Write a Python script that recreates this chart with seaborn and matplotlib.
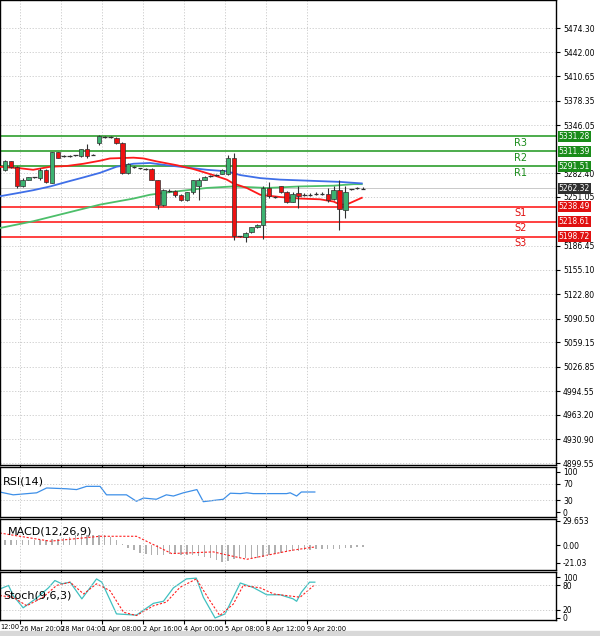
import matplotlib
matplotlib.use("Agg")
import matplotlib.pyplot as plt
import seaborn as sns
import numpy as np
import pandas as pd

# ---- data ----
opens  = [5287,5298,5291,5265,5274,5277,5276,5287,5269,5310,5305,5305,5306,5305,5314,5307,5322,5330,5330,5329,5323,5283,5291,5289,5288,5288,5274,5241,5259,5259,5254,5247,5257,5266,5274,5279,5280,5282,5282,5302,5199,5198,5205,5211,5214,5263,5251,5265,5258,5244,5256,5254,5254,5255,5255,5255,5248,5260,5234,5261,5263,5263]
closes = [5298,5291,5265,5274,5277,5277,5287,5271,5310,5303,5305,5305,5306,5314,5305,5307,5332,5330,5330,5323,5283,5295,5291,5289,5288,5274,5241,5260,5259,5254,5247,5257,5274,5274,5278,5279,5280,5287,5302,5199,5199,5204,5211,5214,5263,5252,5251,5258,5244,5255,5252,5254,5254,5255,5255,5247,5260,5235,5258,5261,5263,5262]
highs  = [5300,5299,5292,5276,5278,5278,5289,5288,5311,5311,5306,5306,5307,5315,5321,5308,5333,5331,5331,5330,5324,5296,5292,5290,5289,5289,5274,5261,5261,5260,5255,5258,5274,5276,5279,5280,5281,5288,5307,5309,5200,5205,5212,5215,5265,5271,5252,5266,5259,5257,5265,5256,5256,5257,5257,5263,5265,5273,5265,5262,5264,5264]
lows   = [5285,5289,5263,5264,5273,5276,5274,5270,5269,5302,5304,5304,5305,5304,5303,5306,5320,5329,5329,5321,5281,5281,5290,5288,5287,5273,5235,5239,5258,5251,5246,5246,5255,5247,5273,5278,5279,5281,5280,5194,5198,5192,5203,5210,5195,5250,5250,5256,5243,5244,5236,5253,5253,5254,5254,5245,5247,5208,5223,5260,5262,5261]

ma_red_x = [-0.9,2.6,4.8,7.7,10.5,13.4,16.2,17.9,21.9,23.6,25.9,29.3,32.1,35.5,37.8,38.9,41.2,43.5,46.9,50.3,53.7,56.0,57.1,58.2,60.8]
ma_red_y = [5291,5289,5287,5291,5292,5295,5299,5302,5303,5302,5298,5293,5288,5280,5274,5269,5263,5254,5251,5249,5248,5245,5241,5241,5250]
ma_blue_x = [-0.9,2.0,4.8,7.7,10.5,13.4,16.2,19.0,21.9,24.7,27.6,31.0,34.4,37.8,40.1,43.5,46.9,50.3,53.7,57.1,60.8]
ma_blue_y = [5252,5256,5260,5265,5271,5277,5283,5291,5295,5296,5293,5290,5287,5285,5280,5276,5274,5273,5272,5271,5269]
ma_green_x = [-0.9,4.8,10.5,16.2,21.9,24.7,27.6,31.0,34.4,38.9,44.6,50.3,56.0,59.4,60.8]
ma_green_y = [5210,5219,5230,5241,5249,5254,5257,5260,5263,5265,5263,5265,5266,5268,5268]

levels = [5331.28, 5311.39, 5291.51, 5238.49, 5218.61, 5198.72]
level_names = ["R3", "R2", "R1", "S1", "S2", "S3"]
last_price = 5262.32
price_ticks = [5474.30,5442.00,5410.65,5378.35,5346.05,5282.40,5251.05,5186.45,5155.10,5122.80,5090.50,5059.15,5026.85,4994.55,4963.20,4930.90,4899.55]

rsi_x = [-0.9,1.4,5.4,7.1,10.5,12.2,13.9,16.2,17.3,20.7,22.4,23.6,25.8,27.5,28.7,30.4,32.7,33.8,37.2,38.4,40.1,41.2,42.3,48.0,48.6,49.7,50.5,52.8]
rsi_y = [50,43,48,60,58,56,64,64,43,43,27,35,32,43,40,48,56,26,32,47,46,48,46,46,48,40,50,50]

macd_hist = [7,7,6,6,7,7,7,7,8,8,9,10,12,13,13,12,13,12,10,6,2,-3,-6,-9,-11,-12,-12,-12,-11,-11,-12,-12,-12,-13,-14,-15,-18,-20,-19,-17,-16,-15,-15,-15,-14,-12,-10,-9,-8,-7,-7,-6,-6,-5,-5,-5,-4,-4,-3,-3,-2,-2]
sig_x = [-0.9,7.7,16.2,22.4,28.4,35.5,41.2,48.9,52.8]
sig_y = [15,5,11,11,-10,-8,-17,-6,-2]

st_x = [-0.9,0.6,1.4,3.1,5.4,7.4,8.5,9.7,11.1,13.1,15.6,16.5,19.0,22.4,25.3,27.0,28.7,30.9,32.6,33.8,35.8,37.5,40.1,42.3,44.6,46.9,49.1,49.7,50.5,51.9,52.8]
st_y = [71,80,55,25,49,74,92,84,88,47,96,88,10,7,36,41,74,96,98,51,0,10,86,75,57,57,47,41,63,88,88]
sts_x = [-0.9,1.4,3.7,6.5,8.8,11.1,13.4,15.6,17.9,20.2,22.4,25.3,27.5,29.8,32.6,34.9,36.6,38.9,40.6,43.5,45.8,48.0,50.3,52.8]
sts_y = [55,51,30,51,80,88,59,84,67,14,6,30,39,75,96,43,6,34,80,74,59,55,51,82]

x_ticks = [2.5 + 7*k for k in range(8)]
x_labels = ["26 Mar 20:00","28 Mar 04:00","1 Apr 08:00","2 Apr 16:00","4 Apr 00:00","5 Apr 08:00","8 Apr 12:00","9 Apr 20:00"]

# ---- figure ----
W, H = 600, 636
fig = plt.figure(figsize=(6, 6.36), dpi=100)
fig.patch.set_facecolor("white")
XL = (-0.85, 93.9)
FS = 5.5

def ax_at(top, bottom):
    return fig.add_axes([0, (H-bottom)/H, 556/W, (bottom-top)/H])

def style(ax, ticks):
    ax.set_xlim(*XL)
    ax.yaxis.tick_right()
    ax.set_yticks(ticks)
    ax.tick_params(axis="y", labelsize=FS, length=3, pad=2, colors="black")
    ax.set_xticks(x_ticks)
    ax.tick_params(axis="x", length=3, labelbottom=False)
    ax.grid(True, color="#c8c8c8", linestyle=(0, (1.5, 2)), linewidth=0.6)
    for s in ax.spines.values():
        s.set_color("black"); s.set_linewidth(1.0)
    ax.set_ylabel(""); ax.set_xlabel("")

# main
ax = ax_at(0, 465)
idx = np.arange(len(opens))
for lv, nm in zip(levels, level_names):
    c = "#2e9e2e" if nm.startswith("R") else "#ff2020"
    ax.axhline(lv, color=c, lw=1.2, zorder=2)
    ax.text(1.005, lv, f"{lv:.2f}", transform=ax.get_yaxis_transform(), fontsize=FS,
            color="white", va="center", ha="left",
            bbox=dict(boxstyle="square,pad=0.15", fc="#1a8c1a" if nm[0]=="R" else "#e01010", ec="none"), clip_on=False)
    ax.text(87.8, lv - 9, nm, fontsize=7, color="#1a8c1a" if nm[0]=="R" else "#e01010",
            ha="center", va="center")
ax.text(1.005, last_price, f"{last_price:.2f}", transform=ax.get_yaxis_transform(), fontsize=FS,
        color="white", va="center", ha="left", bbox=dict(boxstyle="square,pad=0.15", fc="#303030", ec="none"), clip_on=False)
ax.axhline(last_price, color="#c0c0c0", lw=0.6)

df_ma = pd.concat([
    pd.DataFrame({"x": ma_green_x, "y": ma_green_y, "s": "g"}),
    pd.DataFrame({"x": ma_blue_x, "y": ma_blue_y, "s": "b"}),
    pd.DataFrame({"x": ma_red_x, "y": ma_red_y, "s": "r"}),
])
sns.lineplot(data=df_ma, x="x", y="y", hue="s", palette={"g": "#4cbf6a", "b": "#3f6fe8", "r": "#ff1a1a"},
             ax=ax, legend=False, lw=1.3, sort=False, estimator=None, zorder=3)
for i in idx:
    o, c, h, l = opens[i], closes[i], highs[i], lows[i]
    ax.vlines(i, l, h, color="#303030", lw=0.8, zorder=4)
    col = "#3cb371" if c >= o else "#ee1111"
    bh = abs(c - o)
    if bh < 1.2:
        ax.hlines(c, i-0.4, i+0.4, color="#303030", lw=0.9, zorder=5)
    else:
        ax.bar(i, bh, bottom=min(o, c), width=0.75, color=col, edgecolor="#303030", lw=0.5, zorder=5)
style(ax, price_ticks)
ax.set_yticklabels([f"{t:.2f}" for t in price_ticks])
ax.set_ylim(4897.0, 5511.3)

# RSI
ar = ax_at(467, 517)
sns.lineplot(x=rsi_x, y=rsi_y, ax=ar, color="#3d8fe8", lw=0.9)
style(ar, [0, 30, 70, 100])
ar.set_ylim(-12, 112)
ar.grid(False)
for v in (30, 70):
    ar.axhline(v, color="#c8c8c8", ls=(0, (1.5, 2)), lw=0.6)
for xt in x_ticks:
    ar.axvline(xt, color="#c8c8c8", ls=(0, (1.5, 2)), lw=0.6)
ar.text(0.005, 0.72, "RSI(14)", transform=ar.transAxes, fontsize=8, va="center")

# MACD
am = ax_at(519, 570)
am.bar(idx, macd_hist, width=0.25, color="#b0b0b0", zorder=2)
sns.lineplot(x=sig_x, y=sig_y, ax=am, color="#ff2020", lw=0.8, linestyle=(0, (2, 1.5)))
style(am, [-21.03, 0.0, 29.653])
am.set_yticklabels(["-21.03", "0.00", "29.653"])
am.set_ylim(-30, 32)
am.grid(False)
for xt in x_ticks:
    am.axvline(xt, color="#c8c8c8", ls=(0, (1.5, 2)), lw=0.6)
am.text(0.015, 0.76, "MACD(12,26,9)", transform=am.transAxes, fontsize=8, va="center")

# Stoch
ast = ax_at(572, 620)
sns.lineplot(x=st_x, y=st_y, ax=ast, color="#40c0c0", lw=0.9)
sns.lineplot(x=sts_x, y=sts_y, ax=ast, color="#ff2020", lw=0.8, linestyle=(0, (2, 1.5)))
style(ast, [0, 20, 80, 100])
ast.set_ylim(-5, 113)
ast.grid(False)
for v in (20, 80):
    ast.axhline(v, color="#c8c8c8", ls=(0, (1.5, 2)), lw=0.6)
for xt in x_ticks:
    ast.axvline(xt, color="#c8c8c8", ls=(0, (1.5, 2)), lw=0.6)
ast.text(0.005, 0.5, "Stoch(9,6,3)", transform=ast.transAxes, fontsize=8, va="center")
ast.tick_params(axis="x", labelbottom=True, labelsize=4.8, pad=1)
ast.set_xticklabels(x_labels, ha="left")
fig.text(0.0, (H-627)/H, "12:00", fontsize=4.8, va="center", ha="left")

fig.add_artist(plt.Rectangle((0, 0), 1, 5/H, transform=fig.transFigure, color="#d8d8d8", zorder=0))
fig.savefig("out.png", dpi=100)
